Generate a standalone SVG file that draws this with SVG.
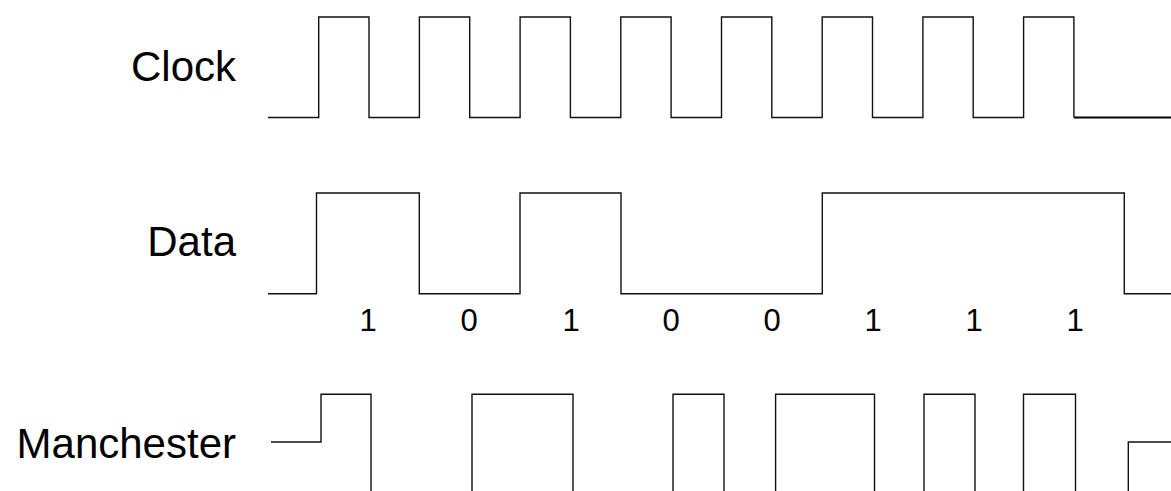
<svg xmlns="http://www.w3.org/2000/svg" width="1171" height="491" viewBox="0 0 1171 491">
<style>
.lbl{font-family:"Liberation Sans",Arial,sans-serif;font-size:42px;fill:#000;text-anchor:end}
.bit{font-family:"Liberation Sans",Arial,sans-serif;font-size:31px;fill:#000;text-anchor:middle}
.wave{fill:none;stroke:#111;stroke-width:1.4;stroke-linejoin:miter}
</style>
<rect width="1171" height="491" fill="#fff"/>
<g id="clock">
<text class="lbl" x="236" y="81">Clock</text>
<path class="wave" d="M268,117.5 H318.7 V17 H369 V117.5 H419.4 V17 H469.7 V117.5 H520.1 V17 H570.4 V117.5 H620.8 V17 H671.1 V117.5 H721.5 V17 H771.8 V117.5 H822.2 V17 H872.5 V117.5 H922.9 V17 H973.2 V117.5 H1023.6 V17 H1073.9 V117.5"/>
<path class="wave" style="stroke-width:2.2;stroke:#000" d="M1073.9,117.5 H1171"/>
</g>
<g id="data">
<text class="lbl" x="236" y="256">Data</text>
<path class="wave" d="M268,293.7 H316.5 V193 H419.3 V293.7 H520 V193 H621 V293.7 H822.3 V193 H1124.3 V293.7 H1171"/>
</g>
<g id="bits">
<text class="bit" x="368" y="331">1</text>
<text class="bit" x="469" y="331">0</text>
<text class="bit" x="571" y="331">1</text>
<text class="bit" x="671" y="331">0</text>
<text class="bit" x="772" y="331">0</text>
<text class="bit" x="873" y="331">1</text>
<text class="bit" x="974" y="331">1</text>
<text class="bit" x="1075" y="331">1</text>
</g>
<g id="manchester">
<text class="lbl" x="236" y="458">Manchester</text>
<path class="wave" d="M271,442 H321 V394.3 H371 V495 M472,495 V394.3 H573 V495 M673,495 V394.3 H724 V495 M775.6,495 V394.3 H874.5 V495 M924,495 V394.3 H975 V495 M1023.5,495 V394.3 H1075.5 V495 M1128.3,495 V442 H1171"/>
</g>
</svg>
